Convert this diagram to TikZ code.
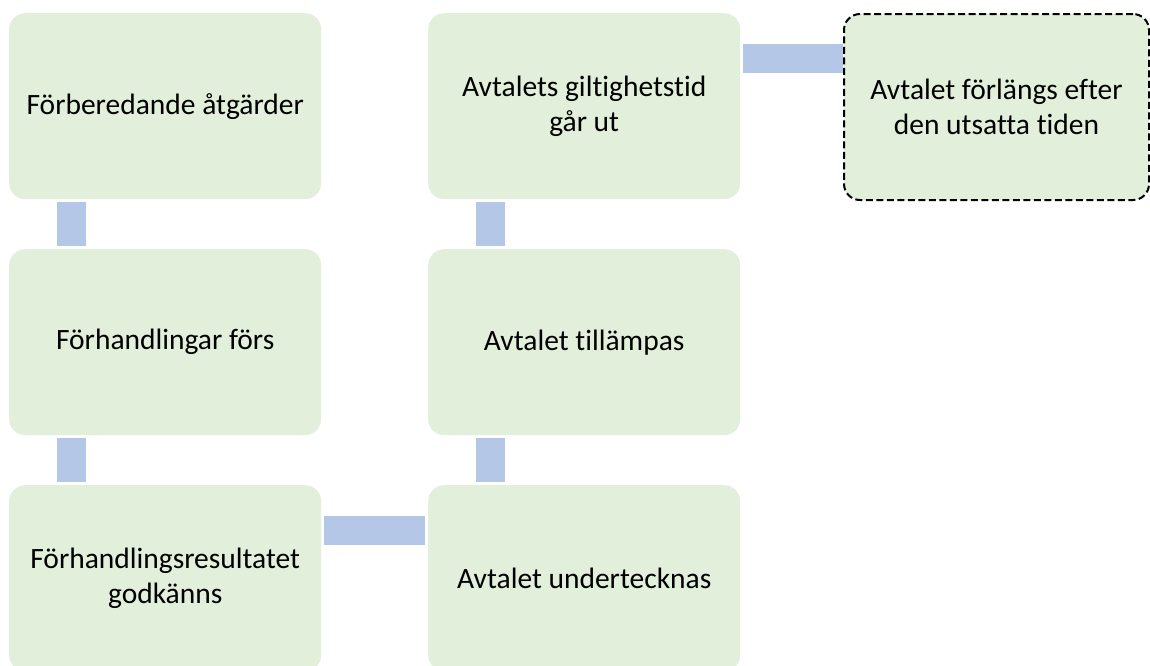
\documentclass[tikz,border=0pt]{standalone}
\usepackage{fontspec}
\setmainfont[Ligatures=NoCommon]{Carlito}
\usetikzlibrary{calc}
\definecolor{boxgreen}{HTML}{E2EFDA}
\definecolor{barblue}{HTML}{B4C7E7}
\begin{document}
\begin{tikzpicture}[x=1pt,y=-1pt,
  boxfont/.style={font=\fontsize{29.5}{35}\selectfont},
  box/.style={fill=boxgreen, rounded corners=16pt, minimum width=312pt, minimum height=186pt,
    anchor=north west, inner sep=0pt, align=center, boxfont},
  dashbox/.style={box, draw=black, line width=2pt, dash pattern=on 7pt off 3.5pt, minimum width=305pt},
  bar/.style={draw=barblue, line width=29pt}]
\useasboundingbox (0,0) rectangle (1150,665);
\clip (0,0) rectangle (1150,665);
\node[box] (a1) at (9,13) {Förberedande åtgärder};
\node[box] (a2) at (9,249) {Förhandlingar förs};
\node[box] (a3) at (9,485) {Förhandlingsresultatet\\godkänns};
\node[box] (b3) at (428,485) {Avtalet undertecknas};
\node[box] (b2) at (428,249) {Avtalet tillämpas};
\node[box] (b1) at (428,13) {Avtalets giltighetstid\\går ut};
\node[dashbox] (c1) at (843,13) {Avtalet förlängs efter\\den utsatta tiden};
\draw[bar] ($(a1.south west)+(62.5,3)$) -- ($(a2.north west)+(62.5,-3)$);
\draw[bar] ($(a2.south west)+(62.5,3)$) -- ($(a3.north west)+(62.5,-3)$);
\draw[bar] ($(a3.north east)+(3,45.5)$) -- ($(b3.north west)+(-3,45.5)$);
\draw[bar] ($(b3.north west)+(62.5,-3)$) -- ($(b2.south west)+(62.5,3)$);
\draw[bar] ($(b2.north west)+(62.5,-3)$) -- ($(b1.south west)+(62.5,3)$);
\draw[bar] ($(b1.north east)+(3,45)$) -- ($(c1.north west)+(0,45)$);
\end{tikzpicture}
\end{document}
